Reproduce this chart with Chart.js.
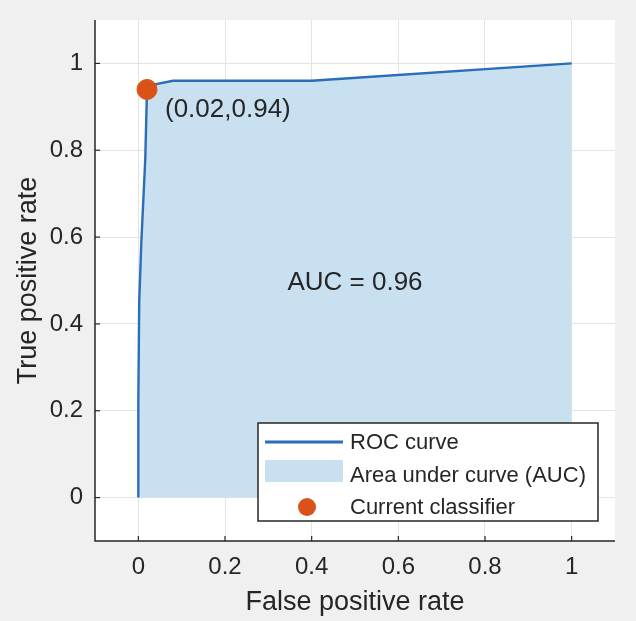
<!DOCTYPE html>
<html>
<head>
<meta charset="utf-8">
<script src="https://cdn.jsdelivr.net/npm/chart.js@4/dist/chart.umd.min.js"></script>
<style>
  html, body { margin: 0; padding: 0; background: #f0f0f0; }
  #wrap { width: 636px; height: 621px; }
</style>
</head>
<body>
<div id="wrap"><canvas id="c" width="636" height="621"></canvas></div>
<script>
// ROC curve samples
const fpr = [0, 0, 0.002, 0.007, 0.016, 0.02, 0.03, 0.08, 0.4, 1];
const tpr = [0, 0.22, 0.45, 0.59, 0.78, 0.94, 0.95, 0.96, 0.96, 1];
// operating point of the current classifier
const classifierFpr = [0.02];
const classifierTpr = [0.94];
const aucValue = 0.96;
const tickValues = [0, 0.2, 0.4, 0.6, 0.8, 1];
const seriesNames = ['ROC curve', 'Area under curve (AUC)', 'Current classifier'];

const FONT = '"Liberation Sans", Arial, Helvetica, sans-serif';
const TEXT = '#262626';
const LINE_BLUE = '#2a6db8';
const FILL_BLUE = '#c9e0f1';
const DOT = '#d95319';

const rocPoints = fpr.map((x, i) => ({ x, y: tpr[i] }));
const dotPoints = classifierFpr.map((x, i) => ({ x, y: classifierTpr[i] }));

const fixTicks = (axis) => { axis.ticks = tickValues.map(v => ({ value: v })); };

const decorations = {
  id: 'decorations',
  beforeDraw(chart) {
    const { ctx, chartArea: a } = chart;
    ctx.save();
    ctx.fillStyle = '#ffffff';
    ctx.fillRect(a.left, a.top, a.right - a.left, a.bottom - a.top);
    ctx.restore();
  },
  afterDatasetsDraw(chart) {
    const { ctx, chartArea: a, scales: { x, y } } = chart;
    ctx.save();
    // axis lines with inward ticks
    ctx.strokeStyle = TEXT;
    ctx.lineWidth = 1.5;
    ctx.beginPath();
    ctx.moveTo(a.left, a.top);
    ctx.lineTo(a.left, a.bottom);
    ctx.lineTo(a.right, a.bottom);
    ctx.stroke();
    ctx.lineWidth = 1.2;
    tickValues.forEach(v => {
      const py = y.getPixelForValue(v);
      ctx.beginPath(); ctx.moveTo(a.left, py); ctx.lineTo(a.left + 5, py); ctx.stroke();
      const px = x.getPixelForValue(v);
      ctx.beginPath(); ctx.moveTo(px, a.bottom); ctx.lineTo(px, a.bottom - 5); ctx.stroke();
    });

    // point label
    const px = x.getPixelForValue(classifierFpr[0]);
    const py = y.getPixelForValue(classifierTpr[0]);
    ctx.fillStyle = TEXT;
    ctx.font = '26px ' + FONT;
    ctx.textAlign = 'left';
    ctx.textBaseline = 'middle';
    ctx.fillText('(' + classifierFpr[0].toFixed(2) + ',' + classifierTpr[0].toFixed(2) + ')', px + 18, py + 20);

    // AUC text
    ctx.textAlign = 'center';
    ctx.fillText('AUC = ' + aucValue.toFixed(2), x.getPixelForValue(0.5), y.getPixelForValue(0.495));

    // legend box
    const w = 340, h = 98;
    const lx = a.right - 17 - w, ly = a.bottom - 20 - h;
    ctx.fillStyle = '#ffffff';
    ctx.fillRect(lx, ly, w, h);
    ctx.strokeStyle = TEXT;
    ctx.lineWidth = 1.5;
    ctx.strokeRect(lx, ly, w, h);
    const rowY = [ly + 19, ly + 52, ly + 84];
    // line sample
    ctx.strokeStyle = LINE_BLUE;
    ctx.lineWidth = 3;
    ctx.beginPath(); ctx.moveTo(lx + 7, rowY[0]); ctx.lineTo(lx + 85, rowY[0]); ctx.stroke();
    // area sample
    ctx.fillStyle = FILL_BLUE;
    ctx.fillRect(lx + 7, rowY[1] - 15, 78, 22);
    // dot sample
    ctx.fillStyle = DOT;
    ctx.beginPath(); ctx.arc(lx + 49, rowY[2], 9, 0, Math.PI * 2); ctx.fill();
    ctx.fillStyle = TEXT;
    ctx.font = '22px ' + FONT;
    ctx.textAlign = 'left';
    seriesNames.forEach((t, i) => ctx.fillText(t, lx + 92, rowY[i] + 1));
    ctx.restore();
  }
};

new Chart(document.getElementById('c'), {
  type: 'scatter',
  data: {
    datasets: [
      {
        label: seriesNames[2],
        data: dotPoints,
        backgroundColor: DOT,
        borderColor: DOT,
        pointRadius: 10,
        pointHoverRadius: 10,
        showLine: false,
        order: 0
      },
      {
        label: seriesNames[0],
        data: rocPoints,
        showLine: true,
        borderColor: LINE_BLUE,
        borderWidth: 2.4,
        pointRadius: 0,
        fill: false,
        order: 1
      },
      {
        label: seriesNames[1],
        data: rocPoints,
        showLine: true,
        borderWidth: 0,
        borderColor: 'rgba(0,0,0,0)',
        backgroundColor: FILL_BLUE,
        pointRadius: 0,
        fill: 'origin',
        order: 2
      }
    ]
  },
  options: {
    responsive: false,
    animation: false,
    events: [],
    layout: { padding: { top: 20, right: 21, left: 0, bottom: 0 } },
    plugins: { legend: { display: false }, tooltip: { enabled: false } },
    scales: {
      x: {
        type: 'linear',
        min: -0.1, max: 1.1,
        afterBuildTicks: fixTicks,
        afterFit: (s) => { s.height = 80; s.paddingLeft = 0; s.paddingRight = 0; },
        border: { display: false },
        grid: { color: '#e3e3e3', lineWidth: 1, drawTicks: false },
        ticks: {
          color: TEXT, padding: 12,
          font: { family: FONT, size: 24 },
          callback: (v) => String(Math.round(v * 10) / 10)
        },
        title: {
          display: true, text: 'False positive rate', color: TEXT,
          font: { family: FONT, size: 27 }, padding: { top: 2, bottom: 2 }
        }
      },
      y: {
        type: 'linear',
        min: -0.1, max: 1.1,
        afterBuildTicks: fixTicks,
        afterFit: (s) => { s.width = 95; s.paddingTop = 0; s.paddingBottom = 0; },
        border: { display: false },
        grid: { color: '#e3e3e3', lineWidth: 1, drawTicks: false },
        ticks: {
          color: TEXT, padding: 12,
          font: { family: FONT, size: 24 },
          callback: (v) => String(Math.round(v * 10) / 10)
        },
        title: {
          display: true, text: 'True positive rate', color: TEXT,
          font: { family: FONT, size: 27 }, padding: { top: 12, bottom: 12 }
        }
      }
    }
  },
  plugins: [decorations]
});
</script>
</body>
</html>
